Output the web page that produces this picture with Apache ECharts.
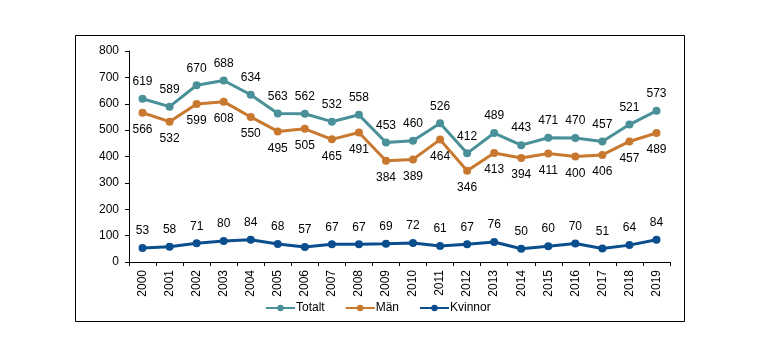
<!DOCTYPE html>
<html><head><meta charset="utf-8">
<script src="https://cdn.jsdelivr.net/npm/echarts@6/dist/echarts.min.js"></script>
<style>html,body{margin:0;padding:0;background:#fff}#c{width:761px;height:358px}</style>
</head><body><div id="c"></div>
<script>
const years = ['2000','2001','2002','2003','2004','2005','2006','2007','2008','2009','2010','2011','2012','2013','2014','2015','2016','2017','2018','2019'];
const totalt = [619,589,670,688,634,563,562,532,558,453,460,526,412,489,443,471,470,457,521,573];
const man = [566,532,599,608,550,495,505,465,491,384,389,464,346,413,394,411,400,406,457,489];
const kvinnor = [53,58,71,80,84,68,57,67,67,69,72,61,67,76,50,60,70,51,64,84];
const yTicks = [0,100,200,300,400,500,600,700,800];

const font = 'Liberation Sans, Arial, sans-serif';
const chart = echarts.init(document.getElementById('c'));
function mk(name, data, color, pos) {
  return {
    name, type: 'line', data, symbol: 'circle', symbolSize: 8,
    lineStyle: {color, width: 3}, itemStyle: {color},
    label: {show: true, position: pos, distance: 7, color: '#000', fontSize: 12, fontFamily: font},
    emphasis: {disabled: true}, animation: false
  };
}
chart.setOption({
  animation: false,
  graphic: [{type: 'rect', shape: {x: 75.5, y: 35.5, width: 609, height: 286}, style: {fill: 'none', stroke: '#000', lineWidth: 1}}],
  grid: {left: 129, right: 91, top: 51, bottom: 96},
  legend: {
    data: ['Totalt','Män','Kvinnor'], left: 260, top: 297, itemWidth: 29, itemHeight: 8, itemGap: 20,
    textStyle: {color: '#000', fontSize: 12, fontFamily: font, padding: [0,0,0,-4]}
  },
  xAxis: {
    type: 'category', data: years, boundaryGap: true,
    axisLine: {lineStyle: {color: '#000', width: 1}},
    axisTick: {show: true, length: 4, lineStyle: {color: '#000'}},
    axisLabel: {rotate: 90, color: '#000', fontSize: 12, fontFamily: font, margin: 8, interval: 0}
  },
  yAxis: {
    type: 'value', min: yTicks[0], max: yTicks[yTicks.length-1], interval: 100,
    splitLine: {show: false},
    axisLine: {show: true, lineStyle: {color: '#000', width: 1}},
    axisTick: {show: true, length: 4, lineStyle: {color: '#000'}},
    axisLabel: {color: '#000', fontSize: 12, fontFamily: font, margin: 10}
  },
  series: [
    mk('Totalt', totalt, '#4A9098', 'top'),
    mk('Män', man, '#C8782F', 'bottom'),
    mk('Kvinnor', kvinnor, '#0B4E8E', 'top')
  ]
});
</script></body></html>
